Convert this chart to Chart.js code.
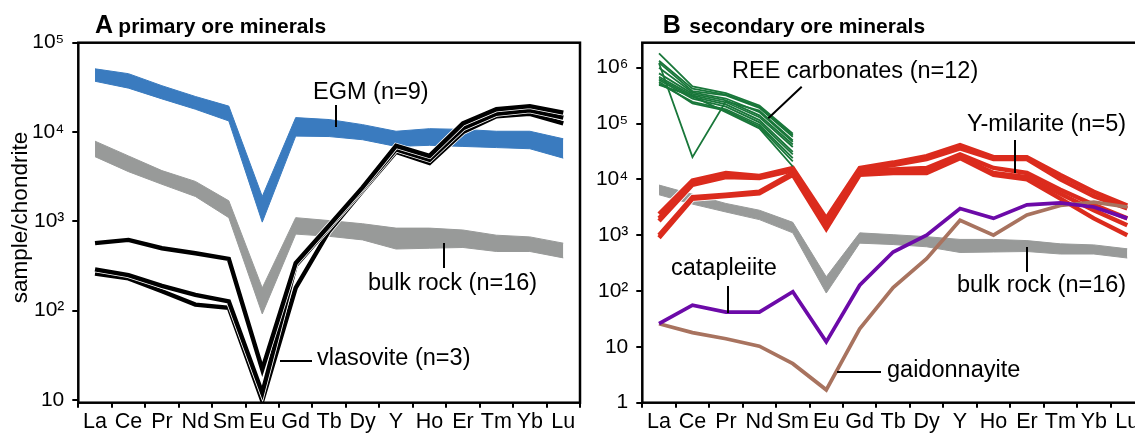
<!DOCTYPE html>
<html>
<head>
<meta charset="utf-8">
<title>REE patterns</title>
<script src="https://cdn.jsdelivr.net/npm/chart.js@4.4.0/dist/chart.umd.min.js"></script>
<style>
  html, body { margin: 0; padding: 0; background: #fff; overflow: hidden; width: 1135px; height: 434px; }
  canvas { position: absolute; top: 0; }
  #chartA { left: 0; }
  #chartB { left: 590px; }
</style>
</head>
<body>
<canvas id="chartA" width="600" height="434"></canvas>
<canvas id="chartB" width="570" height="434"></canvas>
<script>
"use strict"

// ---------- data (sample/chondrite) ----------
const elements = ["La", "Ce", "Pr", "Nd", "Sm", "Eu", "Gd", "Tb", "Dy", "Y", "Ho", "Er", "Tm", "Yb", "Lu"];

const ticksA = [10, 100, 1000, 10000, 100000];
const tickLabelsA = ["10", "10²", "10³", "10⁴", "10⁵"];
const ticksB = [1, 10, 100, 1000, 10000, 100000, 1000000];
const tickLabelsB = ["1", "10", "10²", "10³", "10⁴", "10⁵", "10⁶"];

// bulk rock (n=16) envelope, used in both panels
const bulkUpper = [7900, 5400, 3700, 2800, 1700, 180, 1100, 1020, 940, 840, 840, 800, 700, 670, 570];
const bulkLower = [5300, 3600, 2600, 1900, 1100, 92, 720, 680, 620, 490, 500, 510, 460, 460, 390];

// A: EGM (n=9) envelope
const egmUpper = [51000, 45000, 33000, 25000, 19500, 1900, 14500, 13800, 12100, 10200, 10900, 10700, 10200, 10200, 8400];
const egmLower = [37000, 31000, 23500, 18000, 13300, 980, 9000, 8900, 8200, 6900, 7100, 6900, 6700, 6500, 5100];

// A: vlasovite (n=3)
const vlasovite1 = [570, 620, 500, 440, 380, 22, 340, 900, 2400, 7000, 5400, 12500, 18000, 19500, 16500];
const vlasovite2 = [290, 250, 190, 150, 127, 12, 320, 860, 2300, 6400, 4900, 11000, 16000, 17500, 14500];
const vlasovite3 = [260, 230, 165, 117, 108, 9.8, 180, 780, 2200, 6000, 4500, 10000, 15000, 16000, 12500];

// B: REE carbonates (n=12), La..Sm only
const carbonates = [
  [1800000, 460000, 350000, 210000, 66000],
  [1330000, 420000, 330000, 200000, 62000],
  [1230000, 380000, 320000, 190000, 58000],
  [1200000, 25000, 250000, 170000, 50000],
  [1000000, 360000, 280000, 160000, 47000],
  [790000, 340000, 260000, 140000, 42000],
  [690000, 320000, 240000, 130000, 38000],
  [640000, 300000, 220000, 115000, 31000],
  [600000, 280000, 200000, 105000, 28000],
  [520000, 245000, 180000, 95000, 24000],
  [490000, 310000, 160000, 82000, 17000],
  [560000, 230000, 170000, 88000, 21000]
];

// B: Y-milarite (n=5)
const yMilarite = [
  [2400, 9500, 13000, 11500, 16000, 2000, 16000, 20000, 26000, 41000, 25000, 25000, 12000, 6000, 3400],
  [2000, 8500, 12000, 11000, 15000, 1800, 15000, 18000, 23000, 36000, 23000, 23000, 10000, 5000, 3000],
  [1800, 8000, 11000, 10500, 14500, 1600, 14000, 15000, 16000, 28000, 16000, 13000, 6500, 3500, 2000],
  [1000, 4800, 5300, 6000, 13000, 1400, 13000, 14000, 14000, 25000, 13000, 11000, 5500, 2800, 1500],
  [900, 4500, 5000, 5600, 12000, 1300, 12000, 13000, 13000, 24000, 12000, 10000, 4500, 2000, 1000]
];

// B: catapleiite and gaidonnayite
const catapleiite = [26, 56, 42, 42, 97, 12.3, 127, 500, 1000, 3000, 2000, 3500, 3800, 3200, 2000];
const gaidonnayite = [26, 18, 14, 10.3, 5, 1.7, 21, 115, 380, 1850, 1000, 2300, 3400, 3900, 3200];

// ---------- styling ----------
const fam = '"Liberation Sans", Arial, Helvetica, sans-serif';
Chart.defaults.font.family = fam;
Chart.defaults.color = "#000";

const blue = "#3a7bbf";
const grey = "#989a99";
const red = "#db2b1d";
const green = "#19773a";
const purple = "#6c0aa8";
const brown = "#a8735f";

function line(data, color, width, order) {
  return {
    data: data, borderColor: color, borderWidth: width, order: order,
    pointRadius: 0, fill: false, tension: 0, borderJoinStyle: "miter"
  };
}

function band(upper, lower, color, order) {
  return [
    { data: upper, borderColor: color, borderWidth: 1, pointRadius: 0, fill: false, order: order, tension: 0 },
    { data: lower, borderColor: color, borderWidth: 1, pointRadius: 0, fill: "-1", backgroundColor: color, order: order, tension: 0 }
  ];
}

function scales(yMin, yMax, yTicks, yLabels, yWidth) {
  return {
    x: {
      type: "category", offset: true,
      grid: { offset: true, drawOnChartArea: false, tickLength: 5, color: "#000", lineWidth: 2 },
      border: { display: false },
      ticks: { color: "#000", font: { size: 21.5 }, padding: 1, maxRotation: 0, autoSkip: false },
      afterFit: s => { s.height = 31.3; }
    },
    y: {
      type: "logarithmic", min: yMin, max: yMax,
      grid: { drawOnChartArea: false, tickLength: 6, color: "#000", lineWidth: 2 },
      border: { display: false },
      afterBuildTicks: s => { s.ticks = yTicks.map(v => ({ value: v })); },
      ticks: { color: "#000", font: { size: 21 }, padding: 8, callback: v => yLabels[yTicks.indexOf(v)] },
      afterFit: s => { s.width = yWidth; }
    }
  };
}

// frame, panel title, labels and leader lines (page pixel positions)
const notes = {
  id: "notes",
  afterDraw(chart, args, o) {
    const ctx = chart.ctx, a = chart.chartArea, dx = o.dx;
    ctx.save();
    ctx.strokeStyle = "#000";
    ctx.lineWidth = 2.5;
    ctx.strokeRect(a.left, a.top, a.right - a.left, a.bottom - a.top);

    ctx.fillStyle = "#000";
    ctx.textAlign = "left";
    ctx.textBaseline = "alphabetic";
    ctx.font = "bold 25px " + fam;
    ctx.fillText(o.letter, o.letterX - dx, 33.3);
    ctx.font = "bold 21px " + fam;
    ctx.fillText(o.title, o.titleX - dx, 33.3);

    ctx.font = "23.5px " + fam;
    o.labels.forEach(l => ctx.fillText(l[0], l[1] - dx, l[2]));

    ctx.lineWidth = 2;
    o.leaders.forEach(p => {
      ctx.beginPath();
      ctx.moveTo(p[0] - dx, p[1]);
      ctx.lineTo(p[2] - dx, p[3]);
      ctx.stroke();
    });

    if (o.yTitle) {
      ctx.translate(21, 217.5);
      ctx.rotate(-Math.PI / 2);
      ctx.textAlign = "center";
      ctx.textBaseline = "middle";
      ctx.font = "22.5px " + fam;
      ctx.fillText(o.yTitle, 0, 0);
    }
    ctx.restore();
  }
};

const base = {
  responsive: false,
  animation: false,
  events: [],
  plugins: { legend: { display: false }, tooltip: { enabled: false } }
};

// ---------- panel A ----------
// each black line sits on a slightly wider white line so the three stay apart
const datasetsA = [
  line(vlasovite1, "#000", 4.4, 1), line(vlasovite1, "#fff", 6, 1.5),
  line(vlasovite2, "#000", 4.4, 2), line(vlasovite2, "#fff", 6, 2.5),
  line(vlasovite3, "#000", 4.4, 3), line(vlasovite3, "#fff", 6, 3.5)
].concat(band(egmUpper, egmLower, blue, 10), band(bulkUpper, bulkLower, grey, 11));

new Chart(document.getElementById("chartA"), {
  type: "line",
  data: { labels: elements, datasets: datasetsA },
  options: Object.assign({}, base, {
    layout: { padding: { left: 0, top: 42.7, right: 20, bottom: 0 } },
    scales: scales(9.33, 100000, ticksA, tickLabelsA, 78.3),
    plugins: Object.assign({}, base.plugins, {
      notes: {
        dx: 0, letter: "A", letterX: 95, title: "primary ore minerals", titleX: 118.3,
        yTitle: "sample/chondrite",
        labels: [
          ["EGM (n=9)", 313, 99],
          ["bulk rock (n=16)", 368, 290],
          ["vlasovite (n=3)", 317, 365]
        ],
        leaders: [
          [336, 105, 336, 127],
          [444, 243, 444, 268],
          [280, 361, 312, 361]
        ]
      }
    })
  }),
  plugins: [notes]
});

// ---------- panel B ----------
let datasetsB = [];
carbonates.forEach(c => datasetsB.push(line(c, green, 1.8, 0)));
datasetsB.push(line(catapleiite, purple, 3.7, 5));
datasetsB.push(line(gaidonnayite, brown, 3.7, 6));
yMilarite.forEach((m, i) => datasetsB.push(line(m, red, 4.4, 10 + i)));
yMilarite.forEach((m, i) => datasetsB.push(line(m, "#fff", 6, 20 + i)));
datasetsB = datasetsB.concat(band(bulkUpper, bulkLower, grey, 30));

new Chart(document.getElementById("chartB"), {
  type: "line",
  data: { labels: elements, datasets: datasetsB },
  options: Object.assign({}, base, {
    layout: { padding: { left: 0, top: 42.7, right: 16, bottom: 0 } },
    scales: scales(1, 2800000, ticksB, tickLabelsB, 52.3),
    plugins: Object.assign({}, base.plugins, {
      notes: {
        dx: 590, letter: "B", letterX: 662.7, title: "secondary ore minerals", titleX: 689.3,
        labels: [
          ["REE carbonates (n=12)", 732, 78],
          ["Y-milarite (n=5)", 967, 131],
          ["bulk rock (n=16)", 957, 292],
          ["catapleiite", 671, 275],
          ["gaidonnayite", 887, 377]
        ],
        leaders: [
          [801.7, 86.7, 768.3, 118.3],
          [1015, 140, 1015, 173],
          [1027, 247, 1027, 272],
          [728, 286, 728, 313],
          [837, 372, 881, 372]
        ]
      }
    })
  }),
  plugins: [notes]
});
</script>
</body>
</html>
